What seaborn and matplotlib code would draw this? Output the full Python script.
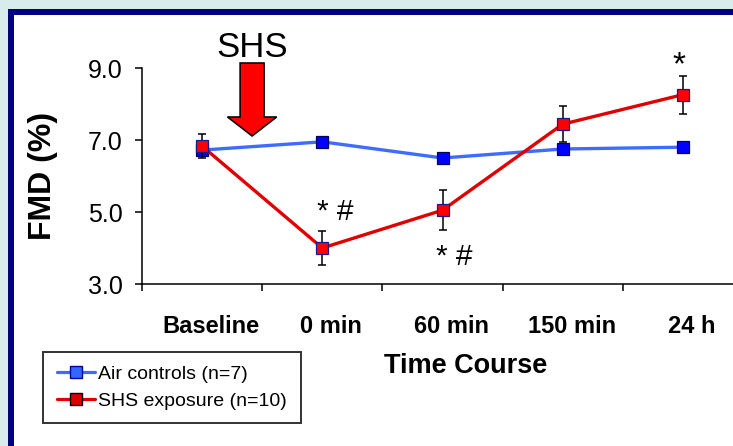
import numpy as np
import pandas as pd
import seaborn as sns
import matplotlib
matplotlib.use("Agg")
import matplotlib.pyplot as plt
import matplotlib.transforms as mtransforms
from matplotlib.patches import FancyArrow, Rectangle
from matplotlib.lines import Line2D

# ---- data ----
time_points = ["Baseline", "0 min", "60 min", "150 min", "24 h"]
air_fmd = [6.72, 6.95, 6.50, 6.75, 6.80]
shs_fmd = [6.83, 4.00, 5.05, 7.44, 8.26]
shs_sem = [0.34, 0.46, 0.55, 0.50, 0.53]
y_ticks = [3.0, 5.0, 7.0, 9.0]
series_names = ["Air controls (n=7)", "SHS exposure (n=10)"]

sns.set_theme(style="white")
plt.rcParams["font.family"] = ["Liberation Sans", "DejaVu Sans"]
plt.rcParams["text.color"] = "black"
plt.rcParams["axes.labelcolor"] = "black"
plt.rcParams["xtick.color"] = "black"
plt.rcParams["ytick.color"] = "black"

W, H = 733, 446
fig = plt.figure(figsize=(W / 100, H / 100), dpi=100)
fig.patch.set_facecolor("#D9ECEC")

# white panel with navy frame (only top/left visible)
panel = Rectangle((11 / W, -0.05), 1.1, (H - 12) / H + 0.05, transform=fig.transFigure,
                  facecolor="white", edgecolor="#000080", linewidth=4.3, zorder=-5)
fig.patches.append(panel)

ax = fig.add_axes([142 / W, (H - 284) / H, 601 / W, 216 / H])
ax.set_facecolor("none")
ax.set_zorder(1)

df = pd.DataFrame({
    "time": time_points * 2,
    "fmd": air_fmd + shs_fmd,
    "group": [series_names[0]] * len(time_points) + [series_names[1]] * len(time_points),
})

blue_line = "#3D6CFF"
red_line = "#E00000"

sns.lineplot(data=df[df.group == series_names[0]], x="time", y="fmd", ax=ax,
             color=blue_line, linewidth=2.4, marker="s", markersize=8.6,
             markerfacecolor="#0000FF", markeredgecolor="#000060", markeredgewidth=0.9,
             legend=False, zorder=3)
ax.errorbar(np.arange(len(time_points)), shs_fmd, yerr=shs_sem, fmt="none",
            ecolor="black", elinewidth=1.1, capsize=3, capthick=1.1, zorder=4)
sns.lineplot(data=df[df.group == series_names[1]], x="time", y="fmd", ax=ax,
             color=red_line, linewidth=2.4, marker="s", markersize=8.6,
             markerfacecolor="#FF0000", markeredgecolor="#1A1A90", markeredgewidth=0.9,
             legend=False, zorder=5)

ax.set_xlim(-0.5, 4.5)
ax.set_ylim(3, 9)
ax.set_yticks(y_ticks)
ax.set_yticklabels([f"{v:.1f}" for v in y_ticks], fontsize=18)
ax.set_xticks(range(len(time_points)))
ax.set_xticklabels(time_points, fontsize=17, fontweight="bold")
ax.set_xticks(np.arange(-0.5, len(time_points) + 0.5, 1.0), minor=True)
ax.tick_params(axis="x", which="major", length=0, pad=22, colors="black", bottom=True)
ax.tick_params(axis="x", which="minor", length=5, width=1.1, direction="out",
               color="black", bottom=True)
ax.tick_params(axis="y", which="major", length=5, width=1.1, direction="out", pad=9,
               color="black", labelcolor="black", left=True)
shift = mtransforms.ScaledTranslation(9 / 100, 0, fig.dpi_scale_trans)
for lab in ax.get_xticklabels():
    lab.set_transform(lab.get_transform() + shift)

for s in ["top", "right"]:
    ax.spines[s].set_visible(False)
for s in ["left", "bottom"]:
    ax.spines[s].set_color("black")
    ax.spines[s].set_linewidth(1.1)

ax.set_ylabel("FMD (%)", fontsize=23, fontweight="bold", color="black")
ax.yaxis.set_label_coords(-0.14, 0.5)
ax.set_xlabel("Time Course", fontsize=19.5, fontweight="bold", color="black")
ax.xaxis.set_label_coords(0.539, -0.378)
ax.xaxis.label.set_va("center")

# SHS arrow and label
ax.add_patch(FancyArrow(0.416, 9.14, 0, -2.03, width=0.2, head_width=0.41, head_length=0.53,
                        length_includes_head=True, facecolor="#FF0000", edgecolor="black",
                        linewidth=1.1, clip_on=False, zorder=6))
ax.text(0.416, 9.31, "SHS", fontsize=25, ha="center", va="baseline", color="black")

# significance marks
ax.text(1.11, 5.0, "* #", fontsize=21.5, ha="center", va="center", color="black")
ax.text(2.10, 3.76, "* #", fontsize=21.5, ha="center", va="center", color="black")
ax.text(3.97, 9.05, "*", fontsize=24, ha="center", va="center", color="black")

handles = [
    Line2D([0], [0], color=blue_line, lw=2.3, marker="s", markersize=8,
           markerfacecolor="#3366FF", markeredgecolor="#0000A0"),
    Line2D([0], [0], color=red_line, lw=2.3, marker="s", markersize=8,
           markerfacecolor="#DD0000", markeredgecolor="black"),
]
leg = fig.legend(handles, series_names, loc="upper left",
                 bbox_to_anchor=(43 / W, (H - 352) / H), bbox_transform=fig.transFigure,
                 fontsize=14, frameon=True, fancybox=False, borderaxespad=0,
                 handlelength=1.95, handletextpad=0.2, borderpad=0.7, labelspacing=0.45)
leg.get_frame().set_edgecolor("black")
leg.get_frame().set_linewidth(1.4)
leg.get_frame().set_facecolor("white")
for t in leg.get_texts():
    t.set_color("black")

fig.savefig("out.png", dpi=100, facecolor=fig.get_facecolor())
